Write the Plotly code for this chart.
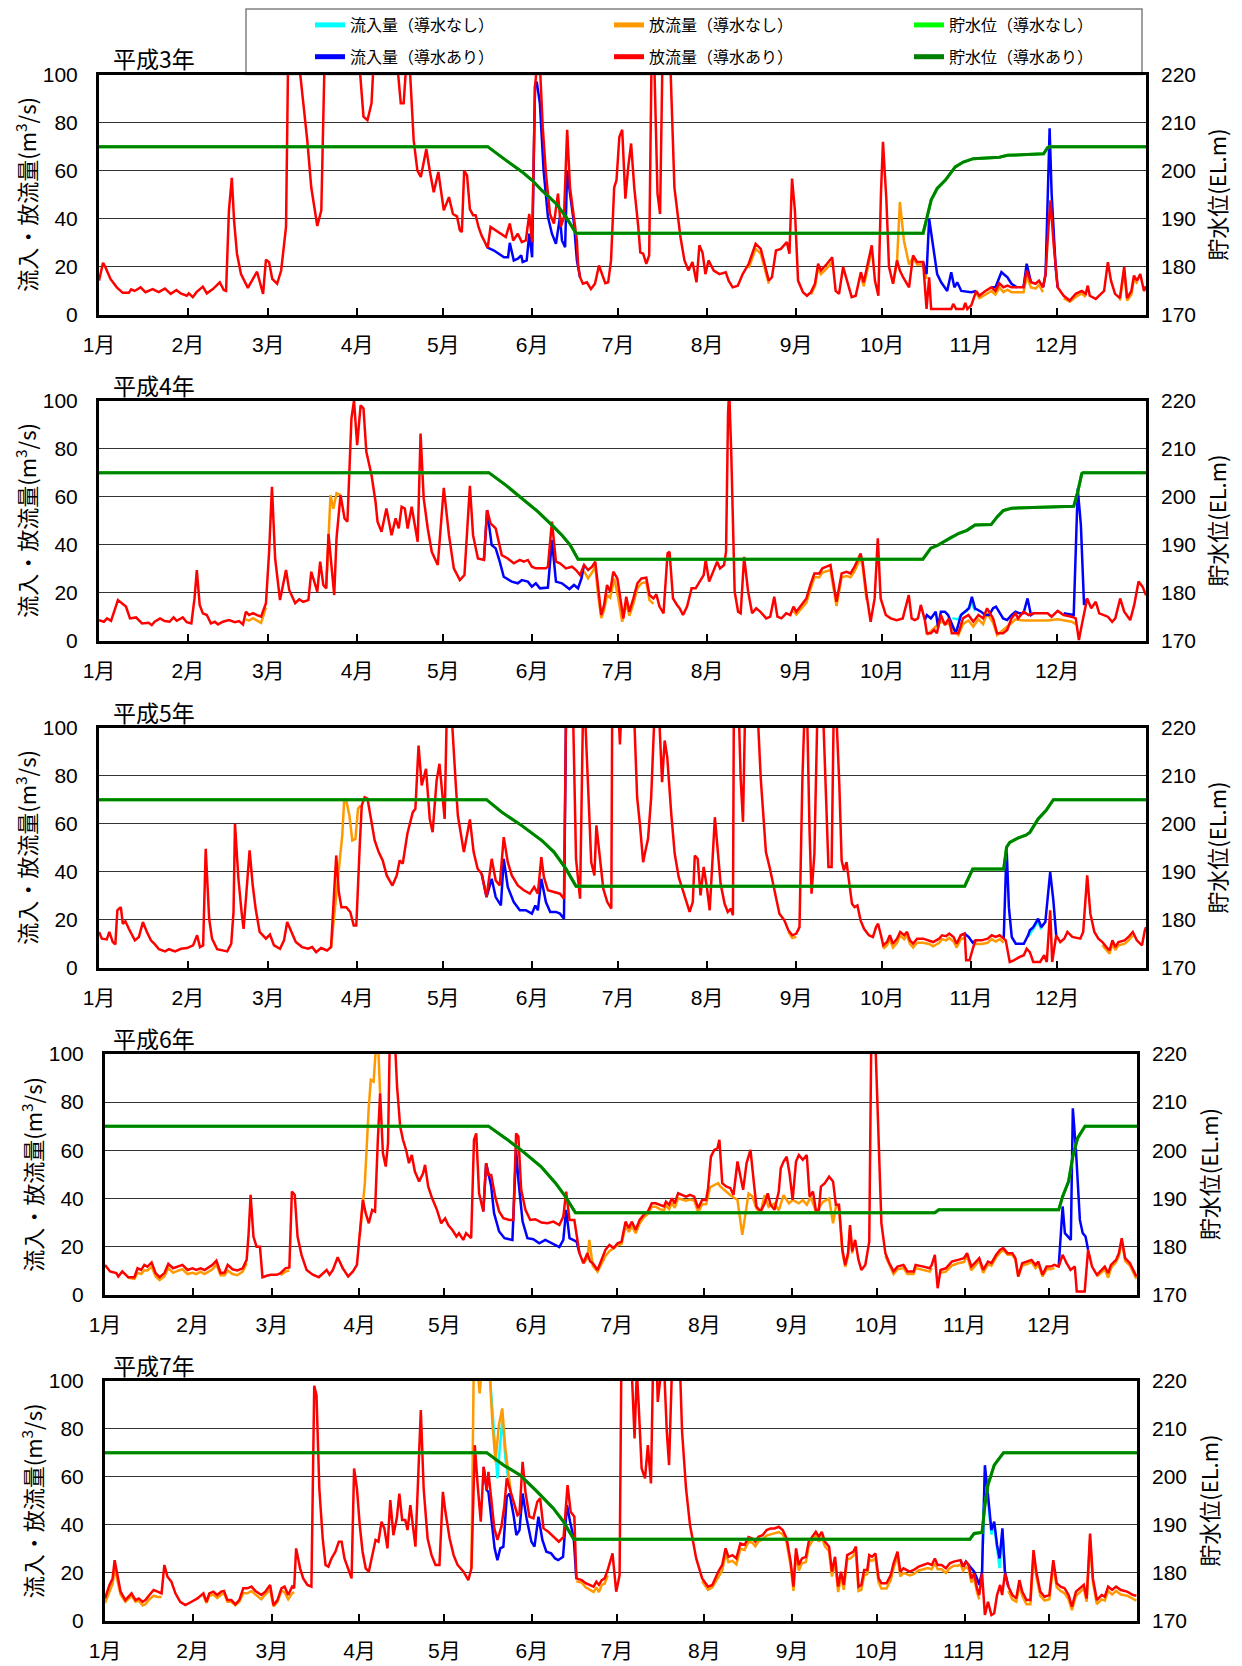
import plotly.graph_objects as go

# day of year (0 = 1 Jan) -> flow (m3/s); 104 marks values running off the top of the scale
MONTH_START = [0, 31, 59, 90, 120, 151, 181, 212, 243, 273, 304, 334]
MONTH_LABEL = ['1月', '2月', '3月', '4月', '5月', '6月', '7月', '8月', '9月', '10月', '11月', '12月']
YEARS = ['平成3年', '平成4年', '平成5年', '平成6年', '平成7年']

# ---------------- 平成3年 ----------------
P1_RED = [(0,14.3),(1.4,21.7),(2.2,20),(4,15),(6.2,11.5),(8.3,9.2),(10.4,9.2),(11.2,10.7),(12.4,10),(14.5,11.5),(16.2,9.5),(18.7,10.8),(20.8,9.5),(23,11),(25,8.8),(27,10.4),(28.5,9),(30.6,8),(31.3,9),(32.7,7.4),(34,9.5),(36.2,11.8),(37.6,9),(39.7,10.8),(42.1,13.6),(43.5,10.4),(44.3,10),(45.3,43.5),(46.3,57),(47.1,39),(48.1,25.5),(49.5,17),(51.9,11.3),(55.1,18),(57.2,8.8),(58.2,23),(59.3,22),(60.4,15),(62.1,13),(63.5,18.5),(65.2,36.6),(65.9,104),(69.8,104),(72.6,72.7),(74,53),(76.1,37),(77.5,43.5),(78.6,104),(90.8,104),(92.2,82.5),(93.6,81),(95,88),(95.7,104),(104,104),(105.2,88),(106.2,88),(107.1,104),(108.3,104),(109.7,72.7),(111,60),(112.2,57.4),(113.2,64),(114.1,69),(115.3,60),(116.7,51),(118.3,59.5),(120.2,43.5),(122,49),(123.4,42),(124.8,41),(125.8,35.2),(126.5,34.5),(127.3,60),(128.3,58),(129.3,44),(130.4,41.5),(131.3,41.5),(132.3,36.6),(133.4,33),(134.8,29.6),(135.5,28),(136.5,36.6),(139,34.5),(141.8,32.4),(143.2,38),(144.4,31),(146,33.8),(147.4,30.3),(148.8,31),(150,42),(151,30.3),(152,95),(152.7,104),(153.7,104),(154.7,78),(155.8,59),(157.2,42),(158.6,38),(160,50.5),(161,36.6),(162.1,40.8),(163.2,77),(164.2,53),(165.6,40.8),(166.6,31),(167,21),(167.7,15.7),(168.7,13),(170.1,13.6),(171.5,10.8),(172.9,13),(174.3,20.6),(175.4,17),(176.5,13.2),(177.5,13.6),(178.5,22.7),(179.6,53),(180.4,56),(181.4,74),(182.4,77),(183.5,48.4),(184.5,61.6),(185.5,71.3),(186.6,53),(188,36.6),(188.7,26),(189.7,25.5),(190.8,21.3),(191.8,24.8),(192.6,104),(193.6,104),(194.7,50.5),(195.6,42),(196.4,104),(199.2,104),(200.6,53),(202.7,32.4),(204.1,22.7),(205.5,18.5),(206.9,22),(208.3,13.6),(209.3,29),(210.4,26),(211.4,17),(212.5,22.7),(214.3,18.5),(216.3,17),(218.5,17.8),(219.5,14.3),(220.9,11.5),(222.7,12.2),(224.4,17),(226.5,21.3),(228.9,29.6),(230.7,27.5),(232.1,21.3),(233.5,14.3),(234.6,15.7),(236,26.8),(237.7,27.5),(239.8,30.3),(240.7,25.5),(241.6,56.7),(242.6,43.5),(243.7,14.3),(245.4,9.5),(246.8,8),(248.2,9.5),(249.6,13),(250.7,21.3),(251.7,18.5),(253.8,21.3),(255.6,24),(256.8,10),(258,8.8),(259.4,20),(261,13),(262.4,7.4),(263.8,8),(265.6,17.8),(266.6,13.6),(268,21.3),(269.4,29),(270.5,14.3),(271.7,8),(272.6,50.5),(273.3,72),(274.5,47.7),(275.4,20),(276.8,13),(278.2,22.7),(279.2,18.5),(280.3,15.7),(282.4,11.5),(283.8,24.8),(285.2,22),(287.3,22),(288.5,2.5),(289.4,15.7),(290.1,2.5),(297.1,2.5),(297.8,4.6),(298.8,2.5),(301.3,2.5),(302,5),(302.7,2.5),(304.1,4),(305.8,10),(306.9,8),(309,10),(311.1,11.5),(312.5,10),(313.9,13.2),(315.3,11.5),(316.7,12.2),(318.1,11.5),(322.3,11.5),(323.4,18.5),(324.9,13.6),(326.5,13),(327.7,14.3),(329.1,11.5),(330,17),(331,36.6),(331.7,47.7),(332.8,29.6),(334.2,11.5),(336.3,8),(338.4,6),(340.5,8.8),(342.6,10),(344,8.8),(344.7,12.2),(345.4,8),(347.5,6.7),(349.3,8.8),(350.4,10),(351.7,22),(352.8,14.3),(354.2,8.8),(355.9,7),(357.4,20),(358.4,7),(359.9,10),(360.8,16.4),(361.9,14.3),(363,17),(364.3,10),(365,12)]
P1_BLUE = [(134.8,29.6),(135.5,28),(137.7,26.8),(141.2,24),(142.6,24),(143.2,30),(144.6,22.7),(146,23.4),(147.2,24.8),(147.7,22),(149.1,22.7),(150,33.8),(151,24),(152,95),(152.6,97),(153.7,88),(155,60),(156.5,40.8),(157.9,33.8),(159.3,29.6),(160.7,40.8),(161.4,31),(162.5,28.2),(163.2,60),(164.2,50.5),(165.6,38),(166.6,22.7),(167.7,15.7), None,
           (287.3,22),(288.5,17),(289.4,40),(290.8,28.2),(292.2,17),(293.6,13.6),(295.7,10),(297.1,17.8),(298.2,11.5),(299.2,13.6),(300.6,10),(304.1,9.5),(305.8,10), None,
           (311.1,11.5),(312.5,11.5),(314.6,17.8),(316.7,15.7),(318.1,13),(320,11.5), None, (322.3,11.5),(323.4,21.3),(324.9,13.6), None,
           (329.1,11.5),(330,17),(331.4,77.6),(332.1,50.5),(333.5,20),(334.2,11.5)]
P1_ORANGE = [(226.5,19.5),(228.9,27.5),(230.7,25.5),(232.1,19.5),(233.5,13), None,
             (248.2,8.5),(249.6,12),(250.7,19.5),(251.7,17),(253.8,19.5),(255.6,22), None,
             (265.6,16),(266.6,12),(268,19.5),(269.4,27), None,
             (276.8,13),(278.2,22),(279.2,47),(280.6,31),(282.4,21),(283.8,24),(285.2,21),(287.3,21),(288.5,15), None,
             (305.8,9),(306.9,7),(309,8.5),(311.1,10),(312.5,8.5),(313.9,11.5),(315.3,9.5),(316.7,10.5),(318.1,9.5),(322.3,9.5),(323.4,16),(324.9,11.5),(326.5,11),(327.7,12.5),(329.1,9.5), None,
             (336.3,7),(338.4,5.5),(340.5,7.5),(342.6,9),(344,7.5), None,
             (355.9,6),(357.4,18.5),(358.4,6),(359.9,8.5),(360.8,15),(362,13)]
P1_CYAN = []
P1_LEVEL = [(0,205),(135.5,205),(141.8,202.2),(147.4,199.8),(151,198),(154.4,195.9),(159.3,193.2),(162.8,190.4),(166.3,187),(287.3,187),(288.7,190.4),(290.1,193.9),(292.2,196.3),(295,198),(298.5,200.8),(301.3,201.8),(304.8,202.5),(313.9,202.8),(316.7,203.2),(329.3,203.5),(330.7,204.8),(331.4,205),(365,205)]

# ---------------- 平成4年 ----------------
P2_RED = [(0,8.7),(1.7,8),(2.8,9.4),(4.2,8.4),(6.6,17),(9.4,14.3),(10.8,9.4),(12.9,9.8),(15,7.3),(17.3,7.6),(18.4,6.6),(19.4,8),(21.3,9.4),(22.9,8.3),(24.6,8),(26,9.8),(27.1,8.4),(29.2,9.8),(30.6,7.8),(32.2,7.3),(33.3,17.7),(34.1,29.5),(35.1,15),(36.2,11.5),(37.6,10.8),(39,7.3),(40.4,8),(41.5,6.9),(43.2,8),(45.3,8.7),(47.4,7.8),(48.8,8.3),(50.2,6.9),(51.2,12.2),(52.3,10.8),(53.7,11.6),(55.1,10.8),(56.5,10.1),(58.2,15.7),(59.3,37),(60.3,64.1),(61.4,34.3),(63.1,17),(65.2,29.5),(66.3,21.2),(68.4,15.7),(69.8,17.3),(71.2,16.3),(73,17),(74,28.8),(76.1,20.5),(77.1,33),(78.2,23.3),(79.2,21.9),(80,44.5),(81,33),(82,19.1),(82.8,42.7),(84.2,60.7),(85.6,51),(86.6,49.6),(88,92.5),(88.9,100),(90,81.4),(91.2,98),(92.2,96.7),(93.2,78.7),(95,69),(96.4,57.9),(97.1,49.6),(98.5,45.4),(100.2,55.1),(102,44),(103.4,51),(104.5,46.8),(105.5,55.8),(106.6,55.1),(107.6,46.8),(109,55.8),(111.1,41.3),(112.1,86.3),(113.2,59.3),(114.6,46.8),(116,37.1),(118.1,31.6),(120.2,63.7),(122,44),(123.7,30.2),(125.8,25.3),(127.4,27.4),(129.3,64.5),(130.4,44),(132.1,34.3),(134.2,33.7),(135.3,54.4),(136.5,48.9),(138.3,46.8),(140.4,35.7),(142.5,34.3),(144.6,32.3),(146.7,33.7),(148.1,33),(149.5,33.7),(150.9,30.9),(152.3,30.2),(155.8,30.2),(156.5,30.9),(157.9,49.6),(159.3,33),(160.7,32.3),(162.8,30.2),(164.9,30.9),(166.3,29.5),(167.7,27.4),(169.1,31.6),(170.5,29.5),(171.9,30.9),(173,33),(174,21.9),(175.1,10.8),(176.1,15),(177.1,23.3),(178.2,20.5),(179.3,28.8),(180.7,26),(181.8,16.3),(182.8,9.4),(183.8,18.4),(184.9,12.2),(186.3,17.7),(187.7,24),(189.1,26),(190.8,26.3),(191.9,19.1),(193.3,17.7),(194.3,19.4),(195.4,14.3),(196.8,11.5),(198.2,36.4),(198.9,37.1),(200.1,17.7),(201.5,15),(202.4,13.6),(203.6,10.8),(205,14.3),(206.6,21.9),(208,21.9),(209.4,24.7),(210.8,27.4),(211.5,33.7),(212.7,24.7),(214.1,28.8),(215.5,33),(216.5,30.2),(217.9,31.6),(218.6,37.1),(219.3,95),(219.7,104),(220.4,78.7),(221.6,20.5),(222.8,12.2),(223.7,11.5),(224.9,35),(226.3,20.5),(227.7,11.5),(229.1,13.6),(230.5,12.2),(232.6,9.4),(234,10.1),(235.4,18.4),(236.5,10.1),(237.9,9.4),(239.6,11.5),(241,10.8),(242.1,14.3),(243.1,12.2),(245.2,15.7),(246.6,17.7),(248,23.3),(249.4,28.1),(251.1,28.1),(252.2,30.2),(253.6,30.9),(255,31.6),(257.1,16.3),(258.9,28.1),(260.6,28.8),(262,28.1),(263.4,30.9),(265.5,36.4),(266.2,33),(267.6,19.1),(269,8),(270.4,17.7),(271.5,42.7),(272.5,17.7),(274.3,10.8),(276,9.4),(278.1,8.7),(280.2,9.4),(282.3,19.1),(283.3,9.4),(284.4,8.7),(285.5,9.4),(286.5,15),(287.9,8.7),(288.6,3.2),(290,3.2),(291.1,4.6),(292.1,3.2),(293.5,10.8),(294.9,6.6),(296.3,9.4),(297.3,3.2),(299.6,3.2),(301.2,9.4),(303.1,10.8),(304.8,8),(306.6,10.8),(308.2,9.4),(309.6,13.6),(311.7,9.4),(313.1,3.2),(315.2,3.2),(316.6,4.6),(318.1,9.4),(319.5,11.5),(320.4,9.4),(322.3,12.2),(324.1,10.8),(325.8,11.5),(328.6,11.5),(330.7,11.5),(332.1,10.1),(334.2,12.5),(336.3,10.8),(339.1,10.1),(340.5,9.4),(341.6,0.4),(342.6,6.6),(344.5,17.7),(345.9,13.6),(347.5,16.3),(348.7,11.5),(350.4,10.8),(351.7,10.1),(353.2,8),(354.3,9.4),(356,17.7),(357.4,12.2),(359.5,8.7),(360.9,15),(362.4,24.7),(363.8,22.6),(365,19)]
P2_BLUE = [(134.2,33.7),(135.3,54.4),(136.9,39.9),(138.3,38.5),(139.7,33),(141.1,26.7),(143.9,24.7),(146,24),(147.4,25.3),(149.5,24.7),(150.9,22.6),(152.3,24),(153.7,21.9),(156.5,22.2),(157.9,42),(159.3,24.7),(161.4,24),(164,21.6),(165.6,23.3),(167,21.9),(168.2,26),(169.1,31.6), None,
           (287.9,8.7),(288.6,10.8),(290,9.4),(291.7,12.2),(292.5,6),(293.5,12.2),(294.9,12.2),(296,10.8),(297,8),(298.7,3.2),(300.5,10.8),(301.9,12.2),(303.3,13.6),(304.3,18.4),(305.4,13.6),(307.5,12.2),(308.9,10.8),(310.3,10.8),(311.7,13.6),(312.7,14.3),(313.8,12.2),(315.2,9.4),(316.6,8.7),(318.1,10.8),(319.5,12.2),(320.9,11.5),(322.3,11.5),(323.7,17.7),(324.9,10.8),(325.8,11.5), None,
           (336.3,11.5),(339.8,10.8),(341.2,63.4),(342.3,48.2),(343.4,15),(344.5,17.7)]
P2_ORANGE = [(51.2,9),(52.3,8.5),(53.7,9.5),(55.1,8.5),(56.5,7.5),(58.2,14), None,
             (79.2,21.9),(80.7,60.7),(81.7,55),(82.8,61.4),(84.2,60.7), None,
             (169.1,29),(170.5,26),(171.9,28.5),(173,31),(174,19),(175.1,9.5),(176.1,13),(177.1,19),(178.2,18),(179.6,26),(181,18),(182.4,8),(183.8,15.5),(184.9,10.5),(186.3,15.5),(187.7,22),(189.1,24),(190.8,24.5),(191.9,17),(193.3,15.5), None,
             (242.1,12.5),(243.1,11),(245.2,14),(246.6,16),(248,21.5),(249.4,26.5),(251.1,26.5),(252.2,28.5),(253.6,29),(255,29.5),(257.1,14.5),(258.9,26.5),(260.6,27),(262,26.5),(263.4,29),(265.5,34.5),(266.2,31),(267.6,17), None,
             (288.6,2.5),(293.5,8),(296.3,7),(299.6,2.5),(301.2,7),(303.1,8.5),(304.8,6),(306.6,9),(308.2,7),(309.6,11.5),(311.7,7.5),(313.1,2.5),(318.1,7.5),(319.5,9),(322.3,8.5),(325.8,8.5),(330.7,8.5),(334.2,9),(339.1,8),(340.5,7)]
P2_CYAN = [(297.5,9.5),(299.5,9),(301,11.5),(302.5,12.5),(304.3,16),(305.4,12.5)]
P2_LEVEL = [(0,205),(135.9,205),(141.8,202.4),(147.4,199.6),(153,196.9),(157.9,194.1),(161.4,192),(164.2,190),(167,187),(287.2,187),(288.6,188.2),(290,189.3),(292.1,189.8),(294.2,190.6),(297,191.5),(299.8,192.4),(302.6,193),(305.4,194.1),(311,194.2),(313.1,195.8),(315.2,197.1),(318.1,197.6),(323.7,197.7),(339.8,198),(341.2,201),(342.6,204.8),(343,205),(365,205)]

# ---------------- 平成5年 ----------------
P3_RED = [(0,15),(1,12.2),(2.7,11.9),(3.6,15),(4.8,10.8),(5.7,9.8),(6.4,24),(7.6,25.3),(8.3,18.4),(9.2,19.4),(10.4,16.3),(12.5,11.5),(13.9,12.9),(15.3,19.1),(16.7,15),(18.1,11.5),(19.5,9.8),(20.9,7.8),(23,6.9),(24.4,7.8),(26.5,6.9),(28.6,8),(30.7,8.3),(32.8,9.4),(34.2,13.6),(35.2,8.7),(36.3,9.4),(37.2,49.6),(38.4,20.5),(39.4,12.2),(41.2,7.8),(43.3,7.3),(44.7,6.9),(46.1,10.1),(46.9,23.3),(47.4,60),(48.6,37.1),(49.7,23.3),(50.4,16.3),(51.4,31.6),(52.5,48.9),(53.6,34.3),(54.6,24.7),(56,15),(58.2,12.2),(59.6,13.9),(61,9.4),(63.1,8),(64.5,11.5),(65.6,19.1),(66.8,15.7),(68.6,10.8),(70.8,8.7),(72.9,8),(74.3,8.7),(75.7,6.6),(77.4,8.3),(79.5,7.3),(80.9,8.7),(81.7,24.7),(82.7,46.8),(83.6,31.6),(84.5,25.3),(86.2,25.3),(87.6,23.3),(88.8,17.7),(89.7,17.7),(90.9,51),(91.6,67.6),(92.6,71),(93.6,70.4),(95,60.7),(96.1,53),(97.5,48.2),(98.9,44.7),(100.3,38.5),(102.3,34.3),(103.8,38.5),(104.8,44.7),(105.9,43.4),(107.5,55.8),(109.4,64.8),(110.3,66.2),(111.4,92.5),(112.5,75.9),(114,82.8),(115.3,62),(116.3,56.5),(117.7,78),(118.7,84.9),(119.8,69),(120.5,62),(121.2,104),(123,104),(124.4,75.9),(125.1,63.4),(127.2,48.2),(129.3,61.8),(130.6,48.2),(132,41.3),(133.4,39.2),(135.1,29.5),(136.9,45.4),(138.3,36.4),(139.7,34.3),(141.1,54.4),(142.5,44),(143.9,38.5),(146,34.3),(148.1,32.3),(150.2,30.9),(151.7,33.7),(153,30.9),(154.2,46.1),(155.1,37.8),(156.5,32.3),(158.6,31.6),(160.7,30.9),(162.1,28.8),(162.8,104),(165.3,104),(166.3,45.4),(167.7,28.8),(168.7,104),(169.5,104),(171,59.3),(171.6,44),(172.7,38.5),(173.4,59.3),(174.4,48.2),(175.8,33),(177.2,27.4),(178.6,24.7),(178.9,104),(181.2,104),(181.6,93),(182,104),(186.6,104),(187.6,71),(188.6,59.3),(189.7,44),(190.4,48.2),(191.4,53.7),(192.5,71),(193.6,104),(195.3,104),(196.3,77.3),(197.2,94.6),(198.1,87.7),(199.5,64.1),(200.7,47.5),(202.1,37.8),(203.5,32.3),(204.5,28.1),(205.9,23.3),(207,27.4),(207.7,46.8),(208.7,45.4),(209.7,30.2),(210.8,42),(211.9,33.7),(212.9,24),(214.7,62.7),(215.7,48.9),(216.7,35),(218.1,26.7),(219.2,23.3),(220.3,24.7),(221,21.9),(221.3,104),(223.1,104),(223.7,78.7),(224.5,60.7),(225.2,104),(229.7,104),(230.7,78.7),(232.5,48.2),(233.9,41.3),(235.3,33),(237.2,22.6),(238.9,19.9),(240.3,15.7),(241.7,13.6),(243.1,14.3),(244.2,17),(245.2,78),(245.9,104),(246.9,104),(247.7,57.2),(248.4,30.9),(249.4,47.5),(250.4,104),(252.5,104),(253.3,75.9),(254.3,42),(255.4,42),(256.1,104),(257.1,104),(258.1,75.9),(258.9,44.7),(259.7,40.6),(260.6,44),(261.6,34.3),(262.5,26.7),(263.4,25.3),(264.4,26),(265.5,19.8),(266.7,16.3),(268.4,13.6),(269.8,12.9),(270.9,17),(271.6,18.4),(272.6,13.6),(273.4,9.4),(274.7,10.8),(275.7,13.6),(276.8,10.1),(278.2,12.2),(279.3,15),(280.7,13.6),(281.7,15),(282.7,11.5),(283.8,10.1),(285.2,12.2),(287.3,12.2),(289.4,11.5),(290.8,10.8),(292.9,12.2),(293.9,13.6),(295.3,13.2),(296.4,14.3),(297.9,12.9),(299,10.1),(300.4,13.6),(301.8,14.3),(302.3,3.2),(303.5,3.2),(304.6,8),(305.6,11.5),(307.7,11.5),(309.8,12.2),(311.2,13.6),(312.6,12.9),(314,13.6),(315.4,12.2),(316.1,11.5),(317.5,2.5),(318.9,3.2),(321,4.6),(322.4,5.3),(323.4,8),(324.5,6.6),(325.7,2.5),(328.1,2.5),(329.5,5.3),(330.4,2.5),(331.6,24),(332.3,2.5),(333.7,13.6),(335.1,10.8),(336.5,12.2),(337.6,15),(339.3,12.9),(342.1,12.2),(343.1,15),(344.5,38.5),(345.6,22.6),(347,15),(348.4,12.2),(349.8,10.8),(351.2,8.7),(352.3,7.3),(353.3,11.5),(354.3,8.7),(355.4,10.8),(357.5,11.5),(358.9,12.9),(360.4,15),(361.8,11.5),(363.6,9.4),(364.6,15.7),(365,17)]
P3_BLUE = [(133.4,39.2),(135.1,29.5),(136.9,37.1),(138.3,29.5),(140.1,26),(141.1,45.4),(142.5,33.7),(144.6,27.4),(146.7,24),(148.8,24),(150.9,22.6),(152.1,26),(153,24),(154.2,37.1),(155.8,27.4),(157.3,23.3),(159.3,23.3),(160.7,22.6),(162.1,20.5),(162.8,104), None,
           (300.4,13.6),(301.8,14.3),(303.2,12.9),(304.6,10.5),(305.6,11.5), None,
           (315.4,12.2),(316.4,50.1),(317.2,25.3),(318.2,12.9),(319.6,10.1),(322.4,10.1),(323.9,13.6),(324.5,15.7),(325.7,17),(327.4,20.5),(328.5,17),(329.9,19.1),(331.6,39.9),(332.7,28.1),(333.7,13.6)]
P3_ORANGE = [(80.9,8.7),(83.4,39.9),(84.8,55.1),(85.5,70.4),(86.2,69.7),(87.3,63.4),(88.3,53),(89.4,53.7),(90.3,66.2),(91.2,67.6), None,
             (240.3,15),(241.7,12.5),(243.1,13), None,
             (273.4,8),(274.7,9.5),(275.7,12),(276.8,8.5),(278.2,10.5),(279.3,13.5),(280.7,12),(281.7,13.5),(282.7,10),(283.8,8.5),(285.2,10.5),(287.3,10.5),(289.4,10),(290.8,9),(292.9,10.5),(293.9,12),(295.3,11.5),(296.4,12.5),(297.9,11),(299,8.5),(300.4,12),(301.8,12.5), None,
             (305.6,10),(307.7,10),(309.8,10.5),(311.2,12),(312.6,11),(314,12),(315.4,10.5), None,
             (349.8,9.5),(351.2,7.5),(352.3,6),(353.3,10),(354.3,7.5),(355.4,9.5),(357.5,10),(358.9,11.5),(360.4,13.5)]
P3_CYAN = [(323.9,13),(325.7,16.5),(327.4,19.5),(328.5,16)]
P3_LEVEL = [(0,205),(135.1,205),(140.4,202.4),(147.4,199.6),(154.4,196.5),(158.6,194.1),(162.8,190.6),(166.3,187),(301.8,187),(302.8,188.2),(304.6,190.6),(315.4,190.6),(316.4,195.1),(317.5,196.1),(320.3,197),(323.1,197.6),(324.5,198.2),(327.4,201),(330.2,202.8),(332.7,205),(365,205)]

# ---------------- 平成6年 ----------------
P4_RED = [(0,12.3),(1.8,9.6),(4,8.9),(4.7,7.5),(6.1,9.6),(8.2,7.2),(10.4,7.2),(11.5,10.9),(12.8,10.2),(13.9,12.3),(15,11.6),(16.5,13.3),(17.9,8.9),(19.3,7.2),(21,8.9),(22.4,12.7),(24.1,10.9),(26,11.6),(27.4,12.3),(29.2,10.2),(30.9,10.9),(32.3,10.2),(33.8,10.9),(35.2,10.2),(36.6,11.4),(38,12.3),(39.4,14.1),(40.9,8.9),(42.3,9.1),(43.4,12.3),(45.1,10.5),(46.8,10),(48.7,10.9),(50.1,14.4),(50.8,25.5),(51.5,41.4),(52.5,24.1),(53.6,19.9),(54.8,19.9),(55.7,7.2),(57.2,7.8),(58.6,8.2),(60.7,8.2),(62.1,8.9),(63.8,10.9),(65.2,11.2),(66.1,42.8),(67.1,41.4),(68.1,24.1),(69.5,16.5),(71.3,10.2),(73.5,8.2),(75.6,7.2),(77.4,8.9),(78.4,10.2),(79.4,8.2),(80.6,10.2),(82.3,15.5),(84.1,10.9),(86,7.5),(87.7,9.6),(89.1,12.3),(90.1,24.1),(91.2,39.3),(92.2,33.8),(93.3,29.6),(94.5,35.2),(95.5,34.5),(96.5,64.3),(97.3,83.7),(98.3,58.7),(99.3,53.2),(100.1,62.9),(100.7,104),(102.6,104),(103.3,86.4),(104.4,69.8),(105.4,64.3),(106.5,60.1),(107.5,54.6),(108.5,58),(109.6,51.1),(111.1,47),(112.5,50.4),(113.2,53.9),(114.3,44.9),(115.7,40),(117.4,35.2),(118.9,29.6),(120.3,31.7),(121.4,28.9),(122.8,26.9),(124.3,24.1),(125.2,25.5),(126.7,22.7),(127.7,25.5),(129.5,23.4),(130.5,64.3),(131.3,67),(132.3,42.1),(133.8,34.5),(134.8,54.6),(135.6,49.7),(136.6,49.7),(138,40.7),(139.4,34.5),(140.9,31.7),(143,31),(144.4,31),(145.4,67),(146.2,65.7),(147.2,43.5),(148.7,35.2),(150.4,31),(152.2,31.3),(154.4,29.9),(156.5,29.6),(158.6,30.3),(160.7,28.9),(162.1,32.4),(163.1,42.8),(164.3,31),(166,31),(166.8,24.1),(167.8,17.2),(169.2,13),(170.6,17.2),(171.6,13.7),(172.5,13),(174.2,10.2),(175.6,14.4),(177,18.6),(178.4,20.6),(179.9,19.3),(181.3,21.3),(182.7,22),(184.1,30.3),(185.3,27.6),(186.3,30.3),(187.7,26.9),(189.1,31),(190.5,33.1),(192,34.5),(193.4,37.9),(194.8,37.9),(196.2,37.3),(197.7,36.6),(198.4,38.6),(199.5,37.3),(200.5,40),(201.5,37.9),(202.7,42.1),(204.1,41.4),(205.5,40.7),(206.9,41.4),(208.4,40.7),(209.8,35.9),(211.2,39.3),(212.6,39.3),(213.3,44.2),(214.3,57.3),(215.5,60.1),(216.6,60.8),(217.3,64.3),(218.3,46.3),(219.7,44.9),(221.2,44.2),(222.3,41.4),(223.7,55.3),(224.7,49),(225.7,43.5),(226.9,54.6),(228.3,60.1),(229.4,47.6),(230.4,36.6),(231.9,34.5),(233.3,37.9),(234.4,42.1),(235.4,37.3),(236.8,35.2),(238.3,42.8),(239,52.5),(240,55.3),(241.1,57.3),(242.1,50.4),(243.2,39.3),(244.4,55.3),(245.4,58),(246.8,56),(248.2,58),(249.2,40.7),(250.4,42.8),(251.5,34.5),(252.5,35.2),(253.2,44.9),(254.6,46.3),(256.1,49),(257.5,47),(258.5,37.3),(259.6,37.3),(260.8,18.6),(261.8,12.3),(262.8,17.2),(263.5,28.9),(264.3,17.9),(265.3,22.7),(266.5,14.4),(267.5,10.2),(268.9,12.3),(270.3,22),(271,104),(272.5,104),(273.6,60.1),(274.6,29.6),(276,17.2),(277.4,13),(278.9,9.6),(280.3,11.6),(282.4,12.3),(283.8,9.6),(286,9.6),(286.7,12.3),(289.5,11.6),(291.7,10.9),(292.4,12.3),(293.5,16.5),(294.5,2.6),(295.5,10.2),(297.4,10.9),(299.5,13.7),(301.7,14.4),(303.8,15.1),(304.9,17.2),(306.4,11.6),(308.1,13.7),(309.2,15.1),(310.6,10.2),(312.3,13.7),(313.5,13),(315.2,16.5),(316.6,18.6),(317.7,19.3),(319.2,17.2),(320.9,17.2),(322,15.1),(323,7.5),(324.4,13),(325.9,13.7),(327.7,14.4),(329.1,12.3),(330.1,13.7),(331.6,8.2),(333,11.6),(334.4,11.6),(335.8,12.3),(337.3,11.6),(338.7,16.5),(340.1,13),(341.5,10.2),(343,11.6),(343.7,1.2),(346.5,1.2),(347.7,18.6),(349.1,11.6),(350.8,8.2),(352.5,10.2),(353.6,11.6),(354.8,8.9),(355.8,12.3),(357.6,14.4),(358.6,17.2),(359.6,23.4),(360.8,15.1),(362.5,13),(363.6,10.2),(364.8,7.5)]
P4_BLUE = [(133.8,34.5),(134.8,54.6),(135.6,50.4),(136.6,44.9),(137.6,33.8),(139.4,26.2),(141.3,23.4),(144.1,22.7),(145.4,60.1),(146.2,47.6),(147.7,30.3),(149.4,23.4),(151.5,23),(153.6,21.3),(155.7,22.7),(157.9,21.3),(160.7,19.7),(162.1,22.7),(163.1,35.2),(164.3,23.4),(165.7,22.7),(166.8,22),(167.8,17.2), None,
           (337.3,11.6),(338.7,36.6),(339.5,25.5),(341.6,22.7),(342.3,77.4),(343.4,60.1),(344.8,31),(345.8,25.5),(346.8,24.1),(347.7,18.6)]
P4_ORANGE = [(8.2,7),(10.4,6.5),(11.5,9),(12.8,8.5),(13.9,10),(15,10),(16.5,11.5),(17.9,7.5),(19.3,6),(21,7.5),(22.4,11),(24.1,9),(26,10),(27.4,10.5),(29.2,8.5),(30.9,9),(32.3,8.5),(33.8,9.5),(35.2,8.5),(36.6,9.5),(38,10.5),(39.4,12.5),(40.9,8),(42.3,8),(43.4,10),(45.1,8.5),(46.8,8),(48.7,9.5),(50.1,13), None,
             (62.1,8),(63.8,9.5),(65.2,10), None,
             (90.1,24.1),(91.9,46.3),(93.3,78.1),(94,89.2),(95,88.5),(95.9,104),(96.6,104),(97.3,83.7), None,
             (169.2,13),(170.6,15),(171.3,22.7),(172.5,12),(174.2,9.5),(175.6,12.5),(177,16),(178.4,18),(179.9,19.5),(181.3,20.5),(182.7,21),(184.1,28.5),(185.3,26),(186.3,28.5),(187.7,25.5),(189.1,29.5),(190.5,32),(192,33.5),(193.4,36.5),(194.8,36.5),(196.2,35.5),(197.7,35),(198.4,37),(199.5,35.5),(200.5,38),(201.5,36),(202.7,40),(204.1,39.5),(205.5,39),(206.9,39.5),(208.4,39),(209.8,34),(211.2,37.5),(212.6,37.5),(214,44.6),(216.9,46.3),(217.6,44.9),(221.2,41.3),(223.7,39.3),(225.4,24.8),(227.6,42),(229,40.7),(230.4,35.7),(231.9,34.3),(233.3,41.3),(234.7,36.4),(236.8,37.9),(238.3,35),(240,41.3),(241.9,37.9),(243.2,39.3),(245.4,37.9),(246.8,39.3),(248.2,37.3),(249.6,40.6),(251.5,34.3),(253.9,38.5),(256.1,39.9),(257.5,29.6),(258.5,36.6),(259.6,36),(260.8,17.5),(261.8,11.5),(262.8,16),(263.5,27.5),(264.3,17), None,
             (276,16),(277.4,12),(278.9,8.5),(280.3,10.5),(282.4,11),(283.8,8.5),(286,8.5),(286.7,11),(289.5,10),(291.7,9.5),(292.4,11), None,
             (295.5,9),(297.4,9.5),(299.5,12),(301.7,13),(303.8,13.5),(304.9,16),(306.4,10),(308.1,12.5),(309.2,14),(310.6,9),(312.3,12.5),(313.5,12),(315.2,15.5),(316.6,17.5),(317.7,18.5),(319.2,16.5),(320.9,16.5),(322,14.5),(323,7.5),(324.4,12),(325.9,12.5),(327.7,13.5),(329.1,11),(330.1,12.5),(331.6,7.5),(333,10.5),(334.4,10.5),(335.8,11), None,
             (350.8,7.5),(352.5,9.5),(353.6,10.5),(354.8,7),(355.8,11),(357.6,13.5),(358.6,16),(359.6,22.5),(360.8,14),(362.5,12),(363.6,9.5),(364.8,6.5)]
P4_CYAN = []
P4_LEVEL = [(0,205),(135.6,205),(141.6,202.5),(147.2,200),(154.2,196.6),(159.3,193.2),(162.8,190.4),(166.4,187),(293.5,187),(294.9,187.6),(337.3,187.6),(338.7,190.4),(340.8,193.5),(342.3,198.7),(344,202.5),(346.6,205),(365,205)]

# ---------------- 平成7年 ----------------
P5_RED = [(0,9.4),(1.6,15),(2.7,17.7),(3.4,25.3),(4.4,19.1),(5.5,12.2),(7.2,8.7),(8.2,10.1),(9.4,11.5),(10.8,8.7),(11.9,9.4),(13.3,8),(14.3,8.7),(15.7,10.8),(17.2,12.9),(18.6,12.2),(20,11.5),(21,23.3),(22.1,18.4),(23.5,16.3),(24.9,11.5),(26.6,8),(28.4,6.6),(30.6,8),(32.7,9.4),(34.8,11.5),(35.9,8),(36.9,11.5),(38.3,12.2),(39.7,10.8),(41.1,12.2),(42.1,12.5),(43.3,8.7),(44.7,8.7),(46.1,6.9),(47.5,8.7),(48.9,13.6),(50.4,13.6),(51.8,14.3),(53.2,12.5),(55.3,10.8),(56.7,12.2),(58.4,15),(59.6,6.6),(61,8.7),(62.4,13.6),(63.5,14.3),(64.8,10.8),(66.2,14.3),(66.9,13.6),(67.6,30.2),(69,21.9),(70.1,17.7),(71.6,15),(73,14.3),(74,97.8),(74.8,93.9),(75.8,55.1),(77,34.3),(78,23.3),(79,22.6),(80.1,26),(81.5,28.8),(82.7,33),(83.7,33),(84.7,26),(85.8,21.9),(87.2,17.7),(88.1,63.4),(89.1,55.1),(90.1,39.9),(91.1,28.8),(92.2,21.9),(93.3,20.5),(94.3,26),(95.7,33.7),(96.7,33),(97.8,41.3),(98.8,38.5),(99.9,30.2),(100.9,50.3),(102,35.7),(103.2,42.7),(104.1,53),(105.1,42),(106.2,42),(107,37.8),(108,48.2),(109.8,30.9),(110.8,64.8),(111.7,87.7),(112.7,55.1),(114.1,34.3),(115.5,27.4),(116.9,23.3),(118.3,23.3),(119.5,53.7),(120.4,45.4),(121.9,34.3),(123.3,27.4),(124.7,23.3),(126.8,20.5),(128.5,17),(129.6,21.9),(130.8,73.1),(131.8,56.5),(132.9,41.3),(133.9,64.1),(135,54.4),(135.6,62),(136.7,48.2),(137.7,38.5),(138.8,33.7),(140.2,39.2),(141.2,47.5),(142.1,59.3),(143.5,53.7),(144.9,48.2),(145.9,44),(146.6,44.7),(147.7,66.2),(148.7,53.7),(150.1,43.4),(151.5,42.7),(152.9,49.6),(153.9,51),(155.1,38.5),(156.8,37.1),(158.6,35),(160.5,33),(162.2,35),(163.6,56.5),(164.7,45.4),(166,43.4),(166.7,17.7),(168.6,17),(170,15.7),(171.4,15),(172.8,14.3),(173.8,16.3),(174.7,15),(175.7,17),(176.7,17.7),(177.8,21.2),(179.5,28.1),(180.8,12.2),(182,19.1),(182.6,104),(186.3,104),(187.3,75.9),(188.1,104),(188.7,91.1),(189.8,63.4),(191,59.3),(192,73.1),(193.1,57.2),(193.8,104),(195.2,104),(195.5,91.1),(196.7,104),(197.8,104),(198.7,78.7),(199.5,64.8),(200.5,104),(203.4,104),(204.1,78.7),(205.5,55.1),(206.9,39.9),(209.1,26),(211.2,17.7),(213.3,14.3),(214.8,15),(216.9,20.5),(218.3,23.3),(219.5,30.2),(220.5,26.7),(221.9,27.4),(223.3,26),(224.7,32.3),(226.2,31.6),(227.6,34.9),(229,34.3),(230,33),(231.1,35),(232.6,35.7),(234,37.8),(235.4,38.5),(236.8,38.5),(238.3,39.2),(239.7,37.8),(241.1,34.3),(242.5,24.7),(243.5,14.3),(244.4,30.2),(245.4,23.3),(246.5,26),(247.9,26.7),(248.9,33),(250.4,35.7),(251.4,37.1),(252.5,35),(253.5,37.1),(254.6,33),(256.1,30.9),(257.1,20.5),(258.2,26.7),(259.3,14.3),(260.3,20.5),(261.3,15),(262.5,27.4),(263.6,28.1),(264.6,28.8),(265.6,30.9),(266.5,14.3),(267.5,15),(268.5,21.2),(269.6,21.2),(270.3,27.4),(271.3,26.7),(272.5,28.1),(273.6,17.7),(274.6,15.7),(276.4,15.7),(277.9,19.1),(278.9,24),(280.3,28.8),(281.3,20.5),(282.4,21.9),(284.6,20.5),(286,21.2),(287.8,22.6),(289.5,23.3),(291,24),(292.4,23.3),(293.5,26),(294.5,23.3),(295.9,23.3),(297.4,21.9),(298.8,24),(300.2,24.7),(301.7,24.9),(302.6,25.3),(303.5,22.6),(304.5,24.7),(305.5,23.3),(306.4,17.7),(307.4,19.8),(308.4,13.6),(309.2,10.8),(310.2,19.8),(311.2,2.5),(312.3,8),(313.5,2.5),(314.5,3.2),(315.5,10.8),(316.6,15),(317.3,10.8),(318.3,19.8),(319.5,14.3),(320.9,10.8),(322.3,9.4),(323.4,17),(324.4,12.2),(325.9,8.7),(327.3,8.7),(328.4,29.5),(329.4,20.5),(330.8,12.2),(332.3,10.1),(334,10.8),(335.4,25.3),(336.6,15.7),(338,14.3),(339.4,13.6),(340.8,10.8),(342,6),(343.4,12.2),(344.8,13.6),(346.2,15),(347.2,9.4),(348.4,36.4),(349.4,17.7),(350.8,8.7),(352.5,10.8),(353.6,10.1),(354.8,14.3),(356.2,12.9),(357.6,14.3),(359.3,12.9),(361.5,12.2),(363.6,10.8),(364.8,10.5)]
P5_BLUE = [(133.9,64.1),(135,54.4),(135.6,53.7),(137,39.9),(137.8,30.2),(138.8,25.3),(139.8,30.2),(140.9,30.9),(142.1,51.7),(143.1,53),(144.5,44),(145.5,35.7),(146.6,37.8),(147.7,53),(149.1,42.7),(150.8,33),(151.9,30.9),(153.3,43.4),(154.7,33.7),(156.1,28.8),(157.8,28.1),(159.2,26),(160.3,25.3),(162,26.7),(163.4,48.2),(164.5,41.3),(165.8,34.3),(166.7,17.7), None,
           (302.6,25.3),(303.5,22.6),(304.5,24.7),(305.5,23.3),(306.4,21.9),(307.4,20.5),(308.4,17.7),(309.2,15),(310.2,20.5),(311.2,64.8),(312.3,52.4),(313.5,37.8),(314.5,41.3),(315.5,31.6),(316.4,26),(317.4,38.5),(318.3,20.5),(319.5,14.3)]
P5_ORANGE = [(0,7.5),(1.6,12),(2.7,15.5),(3.4,22),(4.4,17),(5.5,11),(7.2,8),(8.2,9),(9.4,10.5),(10.8,8),(11.9,8.5),(13.3,6.5),(14.3,7),(15.7,9),(17.2,10.5),(18.6,10),(20,10), None,
             (34.8,10.5),(35.9,7.5),(36.9,10.5),(38.3,11),(39.7,9.5),(41.1,11),(42.1,11.5),(43.3,8),(44.7,8),(46.1,6.5),(47.5,8),(48.9,11.5),(50.4,11.5),(51.8,12.5),(53.2,11),(55.3,9),(56.7,11),(58.4,13),(59.6,6),(61,8),(62.4,12.5),(63.5,12),(64.8,9),(66.2,11.5),(66.9,12), None,
             (129.6,21.9),(130.4,104),(131.8,104),(132.5,94.6),(133.2,104),(136,104),(137,82.8),(138.1,66.2),(139.3,81.4),(140.5,88.4),(141.6,71.7),(142.3,64.8),(143,56.5),(143.5,53.7), None,
             (166.7,16.5),(168.6,16),(170,14),(171.4,13),(172.8,12),(173.8,14),(174.7,12),(175.7,15),(176.7,15.5),(177.8,19), None,
             (211.2,16.5),(213.3,13),(214.8,14),(216.9,18.5),(218.3,21),(219.5,28),(220.5,24.5),(221.9,25),(223.3,23.5),(224.7,30),(226.2,29.5),(227.6,33),(229,32.5),(230,31),(231.1,33),(232.6,34),(234,35.5),(235.4,36),(236.8,36.5),(238.3,37),(239.7,36),(241.1,32.5),(242.5,23),(243.5,12.5),(244.4,28),(245.4,21),(246.5,24),(247.9,24.5),(248.9,31),(250.4,34),(251.4,35.5),(252.5,33),(253.5,35),(254.6,31),(256.1,29),(257.1,18.5),(258.2,24.5),(259.3,12),(260.3,18.5),(261.3,13),(262.5,25.5),(263.6,26),(264.6,27),(265.6,29),(266.5,12.5),(267.5,13),(268.5,19),(269.6,19.5),(270.3,25.5),(271.3,25),(272.5,26),(273.6,16),(274.6,13.5),(276.4,13.5),(277.9,17),(278.9,22),(280.3,27),(281.3,18.5),(282.4,20),(284.6,19),(286,19.5),(287.8,21),(289.5,21.5),(291,22),(292.4,21.5),(293.5,24),(294.5,21.5),(295.9,21.5),(297.4,20),(298.8,22),(300.2,23),(301.7,23),(302.6,23.5),(303.5,21),(304.5,22.5),(305.5,21.5),(306.4,16),(307.4,18),(308.4,12),(309.2,9), None,
             (319.5,12.5),(320.9,9),(322.3,8),(323.4,15),(324.4,10.5),(325.9,7),(327.3,7),(328.4,27.5),(329.4,18.5),(330.8,10.5),(332.3,8.5),(334,9),(335.4,23.5),(336.6,14),(338,12.5),(339.4,11.5),(340.8,9),(342,4.5),(343.4,10.5),(344.8,12),(346.2,13.5),(347.2,8),(348.4,34),(349.4,16),(350.8,7),(352.5,9),(353.6,8.5),(354.8,12.5),(356.2,11),(357.6,12.5),(359.3,11),(361.5,10.5),(363.6,9),(364.8,8.5)]
P5_CYAN = [(136,104),(138.1,71.7),(138.8,59.3),(139.7,73.1),(140.6,84.2),(141.6,67.6),(142.3,62),(143,56), None,
           (310.2,20.5),(311.2,62),(312.3,50),(313.5,36),(314.5,40),(315.5,30),(316.4,22),(317.4,36),(318.3,20)]
P5_LEVEL = [(0,205),(135,205),(141,202.4),(146.6,200.4),(152.3,197.2),(158.6,193.4),(162.2,190.6),(165.8,187),(305.9,187),(307.4,188.2),(310.2,188.4),(311.2,194.1),(312.3,198.3),(314.5,202.4),(315.9,203.5),(317.8,205),(365,205)]

PANELS = [
    (P1_CYAN, P1_ORANGE, P1_BLUE, P1_RED, P1_LEVEL),
    (P2_CYAN, P2_ORANGE, P2_BLUE, P2_RED, P2_LEVEL),
    (P3_CYAN, P3_ORANGE, P3_BLUE, P3_RED, P3_LEVEL),
    (P4_CYAN, P4_ORANGE, P4_BLUE, P4_RED, P4_LEVEL),
    (P5_CYAN, P5_ORANGE, P5_BLUE, P5_RED, P5_LEVEL),
]

C_CYAN, C_ORANGE, C_LGREEN = '#00FFFF', '#FF9900', '#00FF00'
C_BLUE, C_RED, C_DGREEN = '#0000FF', '#FF0000', '#008000'


def split(pairs):
    xs, ys = [], []
    for p in pairs:
        if p is None:
            xs.append(None)
            ys.append(None)
        else:
            xs.append(p[0])
            ys.append(p[1])
    return xs, ys


W, H = 1242, 1666
OFF = 8  # page body margin: the figure is drawn 8 px right and down of the window corner


def px(x):
    return (x - OFF) / W


def py(y):
    return 1 - (y - OFF) / H


TOPS = [74.5, 400.5, 727.5, 1054, 1380.5]
PH = 240.5
XL = [99, 99, 99, 105, 105]
XR = [1146, 1146, 1146, 1137, 1137]
TICKFONT = dict(family='Liberation Sans, Noto Sans CJK JP', size=21, color='black')
JP = 'Noto Sans CJK JP'

fig = go.Figure()
layout = {}
annotations = []

for i, (cyan, orange, blue, red, level) in enumerate(PANELS):
    n = i + 1
    xr = 'x' if n == 1 else 'x%d' % n
    yr = 'y' if n == 1 else 'y%d' % n
    y2r = 'y%d' % (n + 5)

    for data, color, width, yax in [(cyan, C_CYAN, 2.5, yr), (orange, C_ORANGE, 2.5, yr),
                                    (blue, C_BLUE, 2.5, yr), (red, C_RED, 2.5, yr),
                                    (level, C_LGREEN, 3, y2r), (level, C_DGREEN, 3, y2r)]:
        if not data:
            continue
        xs, ys = split(data)
        fig.add_trace(go.Scatter(x=xs, y=ys, mode='lines', line=dict(color=color, width=width),
                                 xaxis=xr, yaxis=yax, showlegend=False, hoverinfo='skip'))

    top, bot = TOPS[i], TOPS[i] + PH
    layout['xaxis' if n == 1 else 'xaxis%d' % n] = dict(
        domain=[px(XL[i]), px(XR[i])], anchor=yr, range=[0, 365], tickvals=MONTH_START,
        ticktext=MONTH_LABEL, ticks='inside', ticklen=7, tickwidth=1.5, tickcolor='black',
        showline=True, linewidth=3, linecolor='black', mirror=True, showgrid=False,
        zeroline=False, tickfont=TICKFONT, ticklabelstandoff=9, automargin=False)
    layout['yaxis' if n == 1 else 'yaxis%d' % n] = dict(
        domain=[py(bot), py(top)], anchor=xr, range=[0, 100], dtick=20, showgrid=True,
        gridcolor='#333333', gridwidth=1, showline=True, linewidth=3, linecolor='black',
        mirror=True, zeroline=False, tickfont=TICKFONT, ticklabelstandoff=14, automargin=False)
    layout['yaxis%d' % (n + 5)] = dict(
        overlaying=yr, side='right', anchor=xr, range=[170, 220], dtick=10, showgrid=False,
        zeroline=False, showline=False, tickfont=TICKFONT, ticklabelstandoff=14, automargin=False)

    annotations.append(dict(text=YEARS[i], x=px(111), y=py(top - 16), xref='paper', yref='paper',
                            xanchor='left', yanchor='middle', showarrow=False,
                            font=dict(family=JP, size=23, color='black')))
    lx = 26 if n <= 3 else 31.5
    rx = 1216 if n <= 3 else 1208
    annotations.append(dict(text='流入・放流量(m<sup>3</sup>/s)', x=px(lx), y=py(top + PH / 2),
                            xref='paper', yref='paper', textangle=-90, showarrow=False,
                            xanchor='center', yanchor='middle', font=dict(family=JP, size=22, color='black')))
    annotations.append(dict(text='貯水位(EL.m)', x=px(rx), y=py(top + PH / 2),
                            xref='paper', yref='paper', textangle=-90, showarrow=False,
                            xanchor='center', yanchor='middle', font=dict(family=JP, size=22, color='black')))

# legend-only entries (three columns of two)
LEGEND_ITEMS = [('流入量（導水なし）', C_CYAN, 'legend'), ('流入量（導水あり）', C_BLUE, 'legend'),
                ('放流量（導水なし）', C_ORANGE, 'legend2'), ('放流量（導水あり）', C_RED, 'legend2'),
                ('貯水位（導水なし）', C_LGREEN, 'legend3'), ('貯水位（導水あり）', C_DGREEN, 'legend3')]
for k, (name, color, lg) in enumerate(LEGEND_ITEMS):
    fig.add_trace(go.Scatter(x=[None], y=[None], mode='lines', name=name, legend=lg,
                             legendgroup='g%d' % k, line=dict(color=color, width=5)))

legend_common = dict(y=py(8), yanchor='top', xanchor='left', bgcolor='rgba(0,0,0,0)',
                     font=dict(family=JP, size=16, color='black'), tracegroupgap=8, itemwidth=30)
layout['legend'] = dict(x=px(310), **legend_common)
layout['legend2'] = dict(x=px(609), **legend_common)
layout['legend3'] = dict(x=px(909), **legend_common)

fig.update_layout(**layout)
fig.update_layout(
    width=W, height=H, autosize=False, margin=dict(l=0, r=0, t=0, b=0, autoexpand=False),
    paper_bgcolor='white', plot_bgcolor='white', showlegend=True,
    annotations=annotations,
    shapes=[dict(type='rect', xref='paper', yref='paper', x0=px(246), x1=px(1142),
                 y0=py(TOPS[0]), y1=py(9), line=dict(color='#808080', width=1.5),
                 fillcolor='white', layer='below')],
)

fig.write_html('out.html')
